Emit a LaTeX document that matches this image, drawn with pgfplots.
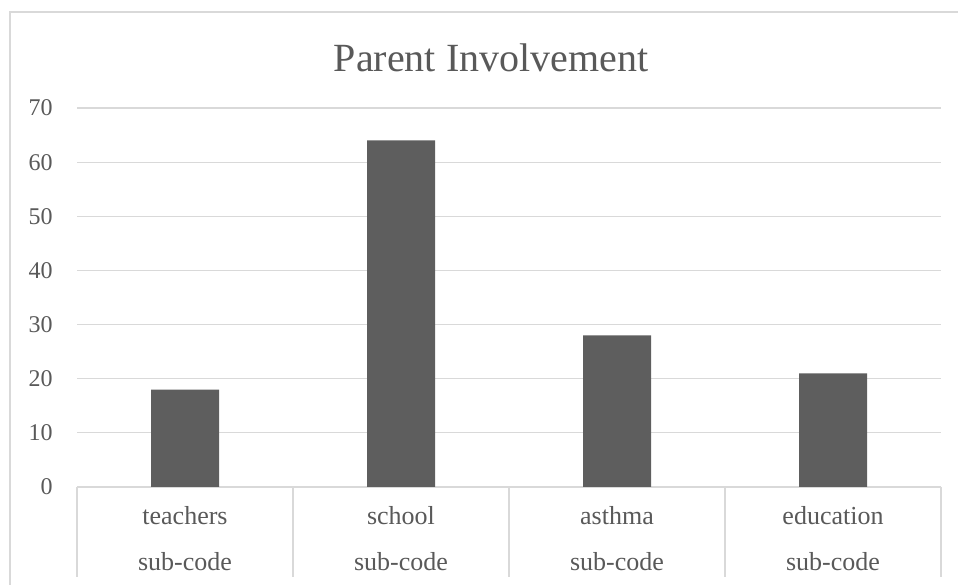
\documentclass[border=0pt]{standalone}
\usepackage{pgfplots}
\pgfplotsset{compat=1.18}
\usepackage{fontspec}
\setmainfont{Liberation Serif}
\definecolor{txt}{HTML}{595959}
\definecolor{grd}{HTML}{D9D9D9}
\definecolor{barc}{HTML}{5E5E5E}
\begin{document}
\begin{tikzpicture}
\useasboundingbox (0,0) rectangle (718.5pt,438.75pt);
\draw[grd, line width=1pt] (7.5pt,-20pt) rectangle (740pt,429.75pt);
\node[anchor=base, text=txt, font=\fontsize{30}{36}\selectfont, inner sep=0pt] at (368.25pt,384.75pt) {Parent Involvement};
\begin{axis}[
 at={(57.75pt,73.5pt)}, anchor=south west,
 scale only axis, width=648pt, height=284.25pt,
 xmin=-0.5, xmax=3.5, ymin=0, ymax=70,
 ytick={0,10,...,70},
 xtick=\empty,
 ymajorgrids, grid style={grd, line width=0.9pt},
 axis line style={draw=none},
 major tick length=0pt,
 yticklabel style={text=txt, font=\fontsize{18}{22}\selectfont, inner sep=0pt, xshift=-18pt},
 /pgf/number format/assume math mode=true,
 clip=false,
 ybar, bar width=51pt,
]
\addplot[fill=barc, draw=none] coordinates {(0,18) (1,64) (2,28) (3,21)};
\pgfplotsinvokeforeach{-0.5,0.5,1.5,2.5,3.5}{
  \draw[grd, line width=0.9pt] (axis cs:#1,0) -- ++(0pt,-67.5pt);
}
\pgfplotsinvokeforeach{0,1,2,3}{
  \node[anchor=base, text=txt, font=\fontsize{19.5}{23}\selectfont, inner sep=0pt] at ([yshift=-28.5pt]axis cs:#1,0) {\ifcase#1 teachers\or school\or asthma\or education\fi};
  \node[anchor=base, text=txt, font=\fontsize{19.5}{23}\selectfont, inner sep=0pt] at ([yshift=-63pt]axis cs:#1,0) {sub-code};
}
\end{axis}
\end{tikzpicture}
\end{document}
